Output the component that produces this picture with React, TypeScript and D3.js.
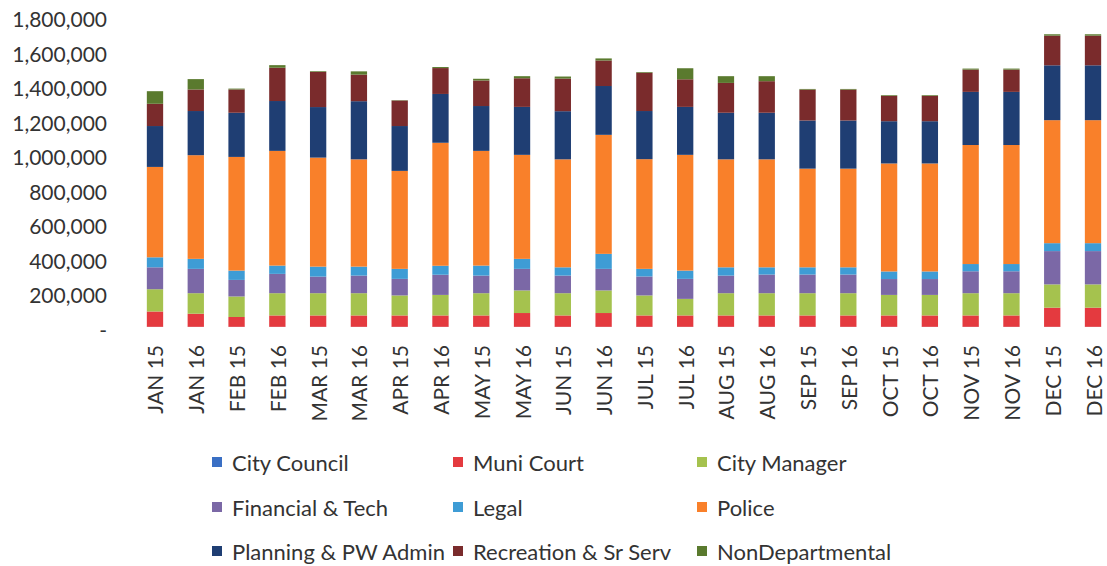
import React from 'react';
import * as d3 from 'd3';

const months = [
  'JAN 15', 'JAN 16', 'FEB 15', 'FEB 16', 'MAR 15', 'MAR 16', 'APR 15', 'APR 16',
  'MAY 15', 'MAY 16', 'JUN 15', 'JUN 16', 'JUL 15', 'JUL 16', 'AUG 15', 'AUG 16',
  'SEP 15', 'SEP 16', 'OCT 15', 'OCT 16', 'NOV 15', 'NOV 16', 'DEC 15', 'DEC 16',
];

const departments = [
  'City Council', 'Muni Court', 'City Manager', 'Financial & Tech', 'Legal',
  'Police', 'Planning & PW Admin', 'Recreation & Sr Serv', 'NonDepartmental',
];

const cityCouncil = [1000, 1000, 1000, 1000, 1000, 1000, 1000, 1000, 1000, 1000, 1000, 1000, 1000, 1000, 1000, 1000, 1000, 1000, 1000, 1000, 1000, 1000, 1000, 1000];
const muniCourt = [89000, 76000, 57000, 66000, 66000, 66000, 66000, 66000, 66000, 80000, 66000, 80000, 66000, 66000, 66000, 66000, 66000, 66000, 66000, 66000, 66000, 66000, 111000, 111000];
const cityManager = [129000, 119000, 119000, 129000, 129000, 129000, 116000, 119000, 129000, 131000, 129000, 131000, 116000, 96000, 129000, 129000, 129000, 129000, 119000, 119000, 129000, 129000, 135000, 135000];
const financialTech = [127000, 141000, 96000, 112000, 96000, 102000, 96000, 117000, 102000, 125000, 102000, 125000, 110000, 116000, 102000, 108000, 108000, 108000, 92000, 92000, 127000, 127000, 193000, 193000];
const legal = [58000, 58000, 54000, 48000, 58000, 52000, 58000, 52000, 58000, 58000, 48000, 87000, 44000, 48000, 48000, 42000, 42000, 42000, 44000, 44000, 42000, 42000, 46000, 46000];
const police = [524000, 601000, 659000, 665000, 632000, 622000, 568000, 713000, 665000, 603000, 626000, 690000, 636000, 671000, 626000, 626000, 572000, 572000, 626000, 626000, 690000, 690000, 713000, 713000];
const planning = [237000, 256000, 256000, 289000, 293000, 337000, 260000, 283000, 260000, 278000, 279000, 283000, 279000, 278000, 270000, 270000, 279000, 279000, 245000, 245000, 308000, 308000, 318000, 318000];
const recreation = [129000, 125000, 135000, 193000, 204000, 154000, 148000, 150000, 148000, 166000, 189000, 148000, 222000, 160000, 173000, 183000, 179000, 179000, 147000, 147000, 129000, 129000, 172000, 172000];
const nonDepartmental = [73000, 60000, 5000, 15000, 4000, 19000, 2000, 6000, 10000, 12000, 12000, 12000, 4000, 64000, 39000, 29000, 4000, 4000, 4000, 4000, 6000, 6000, 8000, 8000];

const yTicks = [0, 200000, 400000, 600000, 800000, 1000000, 1200000, 1400000, 1600000, 1800000];

const seriesValues = [
  cityCouncil, muniCourt, cityManager, financialTech, legal,
  police, planning, recreation, nonDepartmental,
];

const colors = [
  '#3A6FC4', '#E43A3F', '#A5C24E', '#7B68A6', '#3E9CD5',
  '#F9802A', '#1F3E73', '#7A2B2C', '#5A7A2E',
];

const width = 1107;
const height = 566;
const font = 'Lato, "Open Sans", sans-serif';
const textColor = '#333';

export default function App() {
  const rows = months.map((m, i) => {
    const row: any = { month: m };
    departments.forEach((d, j) => (row[d] = seriesValues[j][i]));
    return row;
  });

  const stacked = d3.stack<any>().keys(departments)(rows);

  const x = d3
    .scaleBand()
    .domain(months)
    .range([134.6, 1113.4])
    .paddingInner(0.6)
    .paddingOuter(0.3);

  const y = d3.scaleLinear().domain([0, 1800000]).range([327, 16.5]);

  const fmt = d3.format(',');

  const legendCols = [212, 453, 697];
  const legendRows = [462, 507, 551];

  return (
    <div style={{ position: 'absolute', left: 0, top: 0 }}>
      <svg width={width} height={height} viewBox={`0 0 ${width} ${height}`} style={{ display: 'block', background: '#fff' }}>
        {/* y axis labels */}
        <g fontFamily={font} fontSize={21} fill={textColor}>
          {yTicks.map((t) => (
            <text key={t} x={107} y={y(t) + 2} textAnchor="end" dominantBaseline="central">
              {t === 0 ? '-' : fmt(t)}
            </text>
          ))}
        </g>

        {/* bars */}
        {stacked.map((s, j) => (
          <g key={s.key} fill={colors[j]}>
            {s.map((d, i) => (
              <rect
                key={i}
                x={x(months[i])}
                y={y(d[1])}
                width={x.bandwidth()}
                height={y(d[0]) - y(d[1])}
              />
            ))}
          </g>
        ))}

        {/* x axis labels */}
        <g fontFamily={font} fontSize={21} fill={textColor}>
          {months.map((m) => {
            const cx = (x(m) as number) + x.bandwidth() / 2;
            return (
              <text
                key={m}
                transform={`translate(${cx},345) rotate(-90)`}
                textAnchor="end"
                dominantBaseline="central"
              >
                {m}
              </text>
            );
          })}
        </g>

        {/* legend */}
        <g fontFamily={font} fontSize={22} fill={textColor}>
          {departments.map((d, k) => {
            const lx = legendCols[k % 3];
            const ly = legendRows[Math.floor(k / 3)];
            return (
              <g key={d}>
                <rect x={lx} y={ly - 5} width={10} height={10} fill={colors[k]} />
                <text x={lx + 20} y={ly} dominantBaseline="central">
                  {d}
                </text>
              </g>
            );
          })}
        </g>
      </svg>
    </div>
  );
}
